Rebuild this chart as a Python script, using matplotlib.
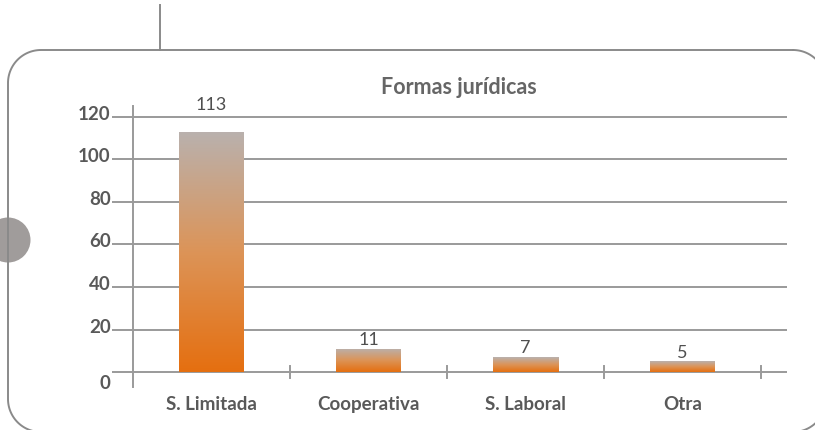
import matplotlib
matplotlib.use("Agg")
import matplotlib.pyplot as plt
import numpy as np
from matplotlib.patches import Circle
from matplotlib.colors import LinearSegmentedColormap
import matplotlib.transforms as mtrans

categories = ["S. Limitada", "Cooperativa", "S. Laboral", "Otra"]
values = [113, 11, 7, 5]
yticks = [0, 20, 40, 60, 80, 100, 120]
title = "Formas jurídicas"

plt.rcParams['font.family'] = ['Lato', 'DejaVu Sans']
W, H = 815, 431
fig = plt.figure(figsize=(W / 100, H / 100), dpi=100)

# decorative frame layer (pixel coordinates, y downward)
bg = fig.add_axes([0, 0, 1, 1], zorder=0)
bg.set_xlim(0, W)
bg.set_ylim(H, 0)
bg.axis('off')
frame_col = '#8a8a8a'


def rounded_rect(x0, y0, x1, y1, r, n=30):
    pts = []
    corners = [((x1 - r, y0 + r), -90, 0), ((x1 - r, y1 - r), 0, 90),
               ((x0 + r, y1 - r), 90, 180), ((x0 + r, y0 + r), 180, 270)]
    for (cx, cy), a0, a1 in corners:
        a = np.radians(np.linspace(a0, a1, n))
        pts += list(zip(cx + r * np.cos(a), cy + r * np.sin(a)))
    pts.append(pts[0])
    return np.array(pts)


fr = rounded_rect(8, 51, 826, 433, 33)
bg.plot(fr[:, 0], fr[:, 1], color=frame_col, lw=1.4, clip_on=True)
bg.plot([160, 160], [6, 51], color=frame_col, lw=1.4)
bg.add_patch(Circle((8, 241), 22.5, color='#a09c9b', ec='none'))
bg.text(459, 88, title, ha='center', va='center', fontsize=15.5,
        fontweight='bold', color='#666666')

# chart axes
y0, y1 = -7, 125
left = 133 / W
right = 787 / W
bottom = (H - 388) / H
top = (H - 107) / H
ax = fig.add_axes([left, bottom, right - left, top - bottom], zorder=1)
ax.patch.set_alpha(0)
x = np.arange(len(categories))
xmax = len(categories) - 0.5 + 26 / 157

grid_col = '#9a9a9a'
for t in yticks:
    ax.axhline(t, color=grid_col, lw=1.4, zorder=1)

for s in ['top', 'right', 'bottom']:
    ax.spines[s].set_visible(False)
ax.spines['left'].set_color(grid_col)
ax.spines['left'].set_linewidth(1.4)

ax.set_yticks(yticks)
ax.set_yticklabels([str(t) for t in yticks])
ax.tick_params(axis='y', length=15, width=1.4, color=grid_col, pad=1,
               labelsize=13.5, labelcolor='#595959')
for lab in ax.get_yticklabels():
    lab.set_fontweight('bold')
    if lab.get_text() == '0':
        lab.set_transform(lab.get_transform() + mtrans.ScaledTranslation(0, -9 / 100, fig.dpi_scale_trans))
    else:
        lab.set_transform(lab.get_transform() + mtrans.ScaledTranslation(0, 5 / 100, fig.dpi_scale_trans))

# category boundary ticks
bounds = np.arange(len(categories) + 1) - 0.5
for b in bounds[1:]:
    ax.plot([b, b], [-3, 3], color=grid_col, lw=1.4, zorder=2, clip_on=False)
ax.set_xticks(x)
ax.set_xticklabels(categories)
ax.tick_params(axis='x', length=0, pad=6, labelsize=13.5, labelcolor='#595959')
for lab in ax.get_xticklabels():
    lab.set_fontweight('bold')

# gradient bars
cmap = LinearSegmentedColormap.from_list('g', ['#e56f10', '#dc9458', '#b9b1ae'])
grad = np.linspace(0, 1, 256).reshape(-1, 1)
bw = 65 / 157
bars = ax.bar(x, values, width=bw, color='none', zorder=3)
for b, v in zip(bars, values):
    bx = b.get_x()
    im = ax.imshow(grad, cmap=cmap, origin='lower', aspect='auto',
                   extent=[bx, bx + bw, 0, v], zorder=3)
    im.set_clip_path(b)
    ly = v + 0.8
    if ly + 8 > yticks[-1]:
        ly = yticks[-1] + 2
    ax.text(bx + bw / 2, ly, str(v), ha='center', va='bottom',
            fontsize=13, color='#4f4f4f', zorder=4)
ax.set_xlim(-0.5, xmax)
ax.set_ylim(y0, y1)

fig.savefig('out.png', dpi=100)
